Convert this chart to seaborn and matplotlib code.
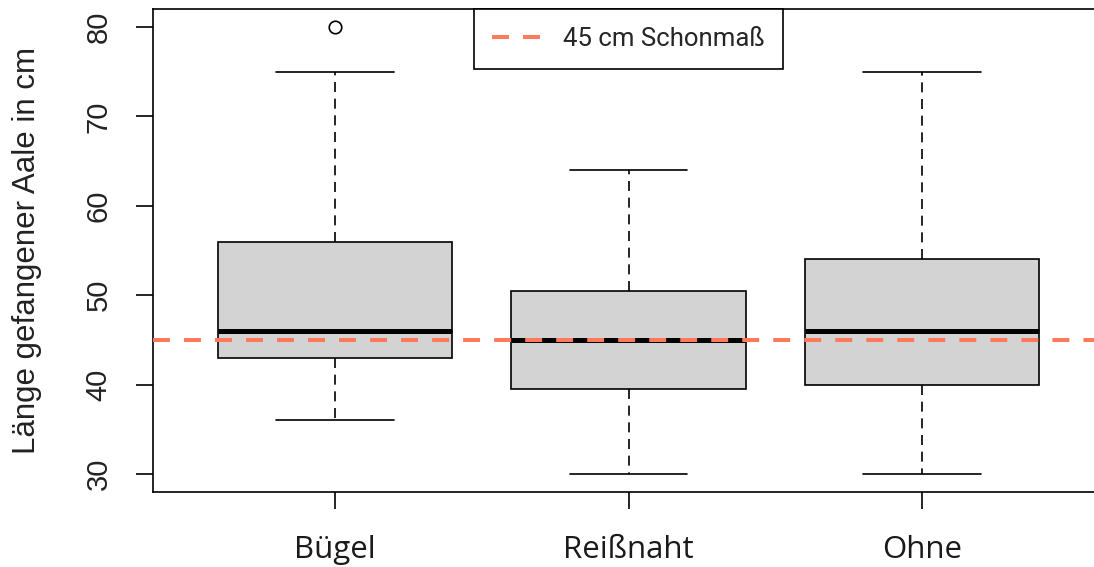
import numpy as np
import pandas as pd
import matplotlib
matplotlib.use("Agg")
import matplotlib.pyplot as plt
import seaborn as sns
from matplotlib.font_manager import FontProperties

# Eel lengths (cm) by hook attachment method
groups = ["Bügel", "Reißnaht", "Ohne"]
buegel = [36, 38, 41, 43, 44, 45, 46, 48, 52, 56, 60, 75, 80]
reissnaht = [30, 33, 36, 39.5, 41, 43, 45, 46, 48, 50.5, 55, 60, 64]
ohne = [30, 34, 37, 40, 42, 44, 46, 48, 51, 54, 60, 68, 75]
min_size = 45
y_ticks = [30, 40, 50, 60, 70, 80]
y_label = "Länge gefangener Aale in cm"
legend_label = "45 cm Schonmaß"

df = pd.DataFrame({
    "Befestigung": [groups[0]] * len(buegel) + [groups[1]] * len(reissnaht) + [groups[2]] * len(ohne),
    "Laenge": buegel + reissnaht + ohne,
})

sns.set_theme(style="white")
plt.rcParams["font.family"] = ["Liberation Sans", "DejaVu Sans"]

W, H = 1094, 567
fig = plt.figure(figsize=(W / 100, H / 100), dpi=100)
ax_l, ax_r, ax_t, ax_b = 153, 1104, 9, 492
ax = fig.add_axes([ax_l / W, 1 - ax_b / H, (ax_r - ax_l) / W, (ax_b - ax_t) / H])

lw = 1.2
sns.boxplot(
    data=df, x="Befestigung", y="Laenge", order=groups, ax=ax,
    color="#D3D3D3", saturation=1, width=0.8, whis=1.5,
    linecolor="black", linewidth=lw, fliersize=9,
    boxprops=dict(edgecolor="black", linewidth=lw),
    medianprops=dict(color="black", linewidth=3.6, solid_capstyle="butt"),
    whiskerprops=dict(color="black", linewidth=lw, linestyle=(0, (6, 4))),
    capprops=dict(color="black", linewidth=lw),
    flierprops=dict(marker="o", markerfacecolor="none", markeredgecolor="black",
                    markeredgewidth=lw, markersize=9),
)

ax.axhline(min_size, color="#FF7A5A", linewidth=2.9, dashes=(4.2, 3.5),
           label=legend_label, zorder=10)

ax.set_xlim(-0.62, 2.62)
ax.set_ylim(28, 82)
ax.set_yticks(y_ticks)
ax.set_yticklabels([str(v) for v in y_ticks], rotation=90, va="center",
                   fontsize=21, fontfamily="Liberation Sans", color="#222222")
ax.set_xticks(range(len(groups)))
ax.set_xticklabels(groups, fontsize=22.5, fontfamily="Open Sans", color="#1a1a1a")
ax.set_xlabel("")
ax.set_ylabel(y_label, fontsize=22.5, fontfamily="Liberation Sans", color="#222222")
ax.yaxis.set_label_coords(-111 / (ax_r - ax_l), 0.5)

ax.tick_params(axis="both", which="both", direction="out", length=12.2, width=lw,
               color="black", left=True, bottom=True)
ax.tick_params(axis="y", pad=17)
ax.tick_params(axis="x", pad=19)
for s in ax.spines.values():
    s.set_visible(True)
    s.set_color("black")
    s.set_linewidth(lw)

leg = ax.legend(loc="upper center", bbox_to_anchor=(0.5, 1.0), borderaxespad=0,
                frameon=True, fancybox=False, framealpha=1, edgecolor="black",
                prop=FontProperties(family="Roboto", size=18.5),
                handlelength=1.9, handletextpad=0.85, borderpad=0.7)
leg.get_frame().set_linewidth(lw)

fig.savefig("out.png", dpi=100)
